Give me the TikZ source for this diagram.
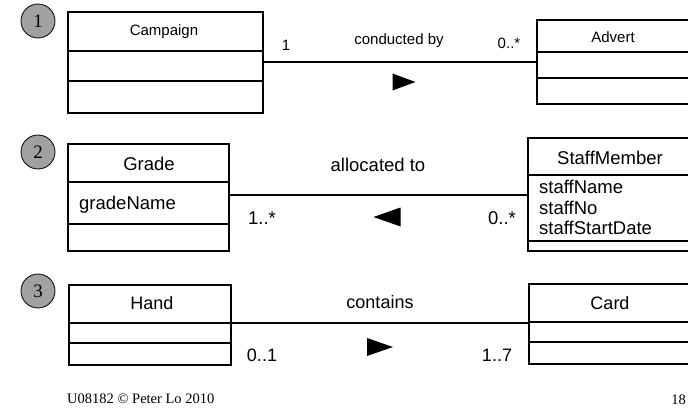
\documentclass[tikz,border=0pt]{standalone}
\usepackage{fontspec}
\setmainfont{Liberation Serif}
\setsansfont{Liberation Sans}
\definecolor{numgray}{rgb}{0.63,0.63,0.63}
\begin{document}
\begin{tikzpicture}[x=1pt,y=-1pt,
  cls/.style={draw, line width=1.2pt, anchor=north west, inner sep=0pt, outer sep=0pt},
  divl/.style={line width=1.2pt},
  conn/.style={line width=1.2pt},
  numc/.style={circle, draw, line width=0.8pt, fill=numgray, minimum size=34pt, inner sep=0pt, font=\fontsize{19}{19}\selectfont\rmfamily},
  fa/.style={font=\fontsize{15}{15}\selectfont\sffamily, inner sep=0pt},
  fb/.style={font=\fontsize{18.5}{19}\selectfont\sffamily, inner sep=0pt},
  fc/.style={font=\fontsize{18}{19}\selectfont\sffamily, inner sep=0pt},
  foot/.style={font=\fontsize{14.5}{15}\selectfont\rmfamily, inner sep=0pt}]
\useasboundingbox (0,0) rectangle (688,412);
\clip (0,0) rectangle (688,412);

% ---------- Row 1 ----------
\node[numc] (n1) at (38,21) {1};
\node[cls, minimum width=195pt, minimum height=101pt] (campaign) at (68,12) {};
\draw[divl] (campaign.west |- 0,51) -- (campaign.east |- 0,51);
\draw[divl] (campaign.west |- 0,81) -- (campaign.east |- 0,81);
\node[fa] (campaignT) at (164,32) {Campaign};

\node[cls, minimum width=163pt, minimum height=84pt] (advert) at (537,20) {};
\draw[divl] (advert.west |- 0,52) -- (advert.east |- 0,52);
\draw[divl] (advert.west |- 0,78) -- (advert.east |- 0,78);
\node[fa] (advertT) at (613,37) {Advert};

\coordinate (l1) at (0,62);
\draw[conn] (campaign.east |- l1) -- (advert.west |- l1);
\node[fa] (m1a) at (286,45) {1};
\node[fa] (a1) at (399,41) {conducted by};
\node[fa] (m1b) at (509,43) {0..*};
\coordinate (t1) at (404,82);
\fill (t1) ++(-11.5,-8.5) -- ++(23,8.5) -- ++(-23,8.5) -- cycle;

% ---------- Row 2 ----------
\node[numc] (n2) at (38,152) {2};
\node[cls, minimum width=161pt, minimum height=107pt] (grade) at (68,144) {};
\draw[divl] (grade.west |- 0,182) -- (grade.east |- 0,182);
\draw[divl] (grade.west |- 0,224) -- (grade.east |- 0,224);
\node[fb] (gradeT) at (149,164) {Grade};
\node[fb, anchor=west] (gradeA) at (79,205) {gradeName};

\node[cls, minimum width=172pt, minimum height=113pt] (staff) at (528,138) {};
\draw[divl] (staff.west |- 0,175) -- (staff.east |- 0,175);
\draw[divl] (staff.west |- 0,241) -- (staff.east |- 0,241);
\node[fb] (staffT) at (610,158) {StaffMember};
\node[fb, anchor=west] (staffA1) at (539,187) {staffName};
\node[fb, anchor=west] (staffA2) at (539,208) {staffNo};
\node[fb, anchor=west] (staffA3) at (539,228) {staffStartDate};

\coordinate (l2) at (0,195);
\draw[conn] (grade.east |- l2) -- (staff.west |- l2);
\node[fb] (a2) at (378,165) {allocated to};
\node[fb] (m2a) at (262,218) {1..*};
\node[fb] (m2b) at (502,218) {0..*};
\coordinate (t2) at (387,217);
\fill (t2) ++(13.5,-9.5) -- ++(-27,9.5) -- ++(27,9.5) -- cycle;

% ---------- Row 3 ----------
\node[numc] (n3) at (38,291) {3};
\node[cls, minimum width=162pt, minimum height=80pt] (hand) at (69,285) {};
\draw[divl] (hand.west |- 0,323) -- (hand.east |- 0,323);
\draw[divl] (hand.west |- 0,343) -- (hand.east |- 0,343);
\node[fc] (handT) at (152,303) {Hand};

\node[cls, minimum width=171pt, minimum height=80pt] (card) at (529,284) {};
\draw[divl] (card.west |- 0,322) -- (card.east |- 0,322);
\draw[divl] (card.west |- 0,342) -- (card.east |- 0,342);
\node[fc] (cardT) at (610,303) {Card};

\coordinate (l3) at (0,323);
\draw[conn] (hand.east |- l3) -- (card.west |- l3);
\node[fc] (a3) at (380,302) {contains};
\node[fc] (m3a) at (262,355) {0..1};
\node[fc] (m3b) at (497,355) {1..7};
\coordinate (t3) at (380,347);
\fill (t3) ++(-13,-9) -- ++(26,9) -- ++(-26,9) -- cycle;

% ---------- Footer ----------
\node[foot, anchor=west] (ftl) at (67,399) {U08182 © Peter Lo 2010};
\node[foot, anchor=east] (ftr) at (686,400) {18};
\end{tikzpicture}
\end{document}
